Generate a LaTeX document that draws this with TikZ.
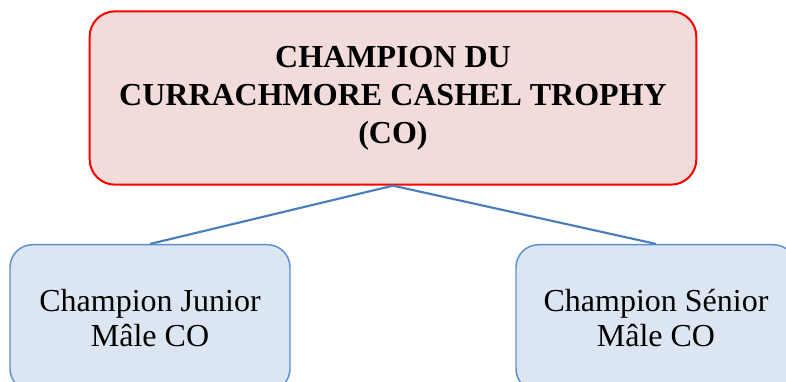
\documentclass[tikz,border=0pt]{standalone}
\usepackage{fontspec}
\setmainfont{Liberation Serif}
\definecolor{topfill}{HTML}{F2DCDB}
\definecolor{topline}{HTML}{FF0000}
\definecolor{subfill}{HTML}{DCE6F2}
\definecolor{subline}{HTML}{5B8FD0}
\definecolor{conn}{HTML}{4A7EBB}
\begin{document}
\begin{tikzpicture}[x=0.75pt,y=-0.75pt,
  topbox/.style={draw=topline, fill=topfill, line width=1.5pt, rounded corners=19pt,
    minimum width=455pt, minimum height=130pt, align=center,
    font=\fontsize{24}{28.5}\selectfont\bfseries, inner sep=0pt},
  subbox/.style={draw=subline, fill=subfill, line width=1.1pt, rounded corners=17pt,
    minimum width=210pt, minimum height=110pt, align=center,
    font=\fontsize{24}{26.5}\selectfont, inner sep=0pt},
  link/.style={draw=conn, line width=1.6pt}]
\useasboundingbox (0,0) rectangle (786,382);
\node[topbox] (top) at (393,98) {CHAMPION DU\\CURRACHMORE CASHEL TROPHY\\(CO)};
\node[subbox] (jr) at (150,318) {Champion Junior\\Mâle CO};
\node[subbox] (sr) at (656,318) {Champion Sénior\\Mâle CO};
\draw[link] (top.south) -- (jr.north);
\draw[link] (top.south) -- (sr.north);
\end{tikzpicture}
\end{document}
